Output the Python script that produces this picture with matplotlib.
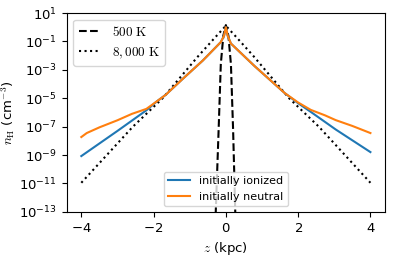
import numpy as np
import matplotlib
matplotlib.use('Agg')
import matplotlib.pyplot as plt

plt.rcParams['mathtext.fontset'] = 'cm'
plt.rcParams['axes.formatter.use_mathtext'] = True

# simulation profiles (z in kpc, log10 of n_H)
z_ion = [-4.0, -3.0, -2.2, -1.9, -1.67, -1.2, -0.64, -0.14, -0.05, 0.0,
         0.05, 0.14, 0.8, 1.63, 2.0, 2.35, 3.04, 4.0]
logn_ion = [-9.07, -7.3, -5.85, -5.2, -4.77, -3.65, -2.35, -1.05, -0.6, 0.0,
            -0.6, -1.15, -2.75, -4.64, -5.35, -5.96, -7.2, -8.79]

z_neu = [-4.0, -3.85, -3.5, -3.0, -2.6, -2.2, -1.9, -1.67, -1.2, -0.64, -0.14,
         -0.05, 0.0, 0.05, 0.14, 0.8, 1.63, 2.0, 2.35, 2.74, 3.04, 3.5, 3.85, 4.0]
logn_neu = [-7.73, -7.45, -7.05, -6.55, -6.1, -5.75, -5.2, -4.77, -3.65, -2.35,
            -1.05, -0.6, 0.0, -0.6, -1.15, -2.75, -4.64, -5.3, -5.82, -6.2,
            -6.54, -6.95, -7.3, -7.45]

# analytic comparison profiles
z_500 = [-0.3, -0.28, -0.2, -0.14, -0.07, 0.0, 0.07, 0.14, 0.2, 0.26, 0.28]
logn_500 = [-14.0, -13.0, -7.2, -2.6, -0.6, 0.15, -0.6, -2.6, -7.2, -13.0, -14.0]

z_8000 = [-4.0, -2.58, -1.75, -0.78, -0.28, 0.0, 0.28, 0.78, 1.75, 2.58, 4.0]
logn_8000 = [-10.95, -7.02, -5.0, -2.08, -0.67, 0.1, -0.67, -2.08, -5.0, -7.02, -10.95]

fig = plt.figure(figsize=(3.98, 2.60), dpi=100)
ax = fig.add_axes([0.168, 0.185, 0.799, 0.765])

l1, = ax.plot(z_500, 10**np.array(logn_500), 'k--', lw=1.5)
l2, = ax.plot(z_8000, 10**np.array(logn_8000), 'k:', lw=1.5)
l3, = ax.plot(z_ion, 10**np.array(logn_ion), color='C0', lw=1.5)
l4, = ax.plot(z_neu, 10**np.array(logn_neu), color='C1', lw=1.5)

ax.set_yscale('log')
ax.set_ylim(1e-13, 1e1)
ax.set_xlim(-4.4, 4.4)
ax.set_yticks([10.0**k for k in range(-13, 2, 2)])
ax.yaxis.set_minor_locator(matplotlib.ticker.NullLocator())
ax.set_xticks([-4, -2, 0, 2, 4])
ax.tick_params(labelsize=9.5)

ax.set_xlabel(r'$z$ (kpc)', fontsize=9.5)
ax.set_ylabel(r'$n_{\rm H}$ (cm$^{-3}$)', fontsize=9.5, labelpad=2)

leg1 = ax.legend([l1, l2], [r'$500\ \mathrm{K}$', r'$8,000\ \mathrm{K}$'],
                 loc='upper left', fontsize=9.5, handlelength=1.7)
ax.add_artist(leg1)
ax.legend([l3, l4], ['initially ionized', 'initially neutral'],
          loc='lower center', fontsize=8)

fig.savefig('out.png', dpi=100)
